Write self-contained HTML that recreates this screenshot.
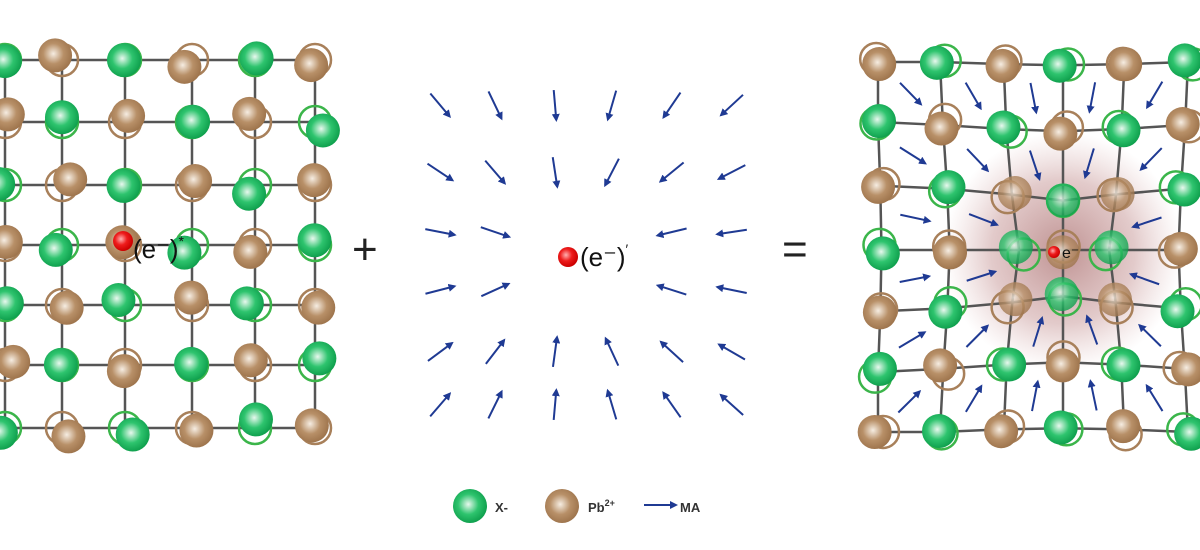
<!DOCTYPE html>
<html><head><meta charset="utf-8">
<style>
html,body{margin:0;padding:0;background:#fff;width:1200px;height:550px;overflow:hidden}
svg{display:block}
text{font-family:"Liberation Sans",sans-serif}
</style></head><body>
<svg id="s" width="1200" height="550" viewBox="0 0 1200 550" xmlns="http://www.w3.org/2000/svg">
<defs>
<radialGradient id="gG" cx="0.45" cy="0.45" r="0.6"><stop offset="0" stop-color="#e8f8ee"/><stop offset="0.5" stop-color="#2ec46e"/><stop offset="1" stop-color="#0a9a48"/></radialGradient>
<radialGradient id="gB" cx="0.45" cy="0.45" r="0.6"><stop offset="0" stop-color="#f6ede2"/><stop offset="0.5" stop-color="#b89068"/><stop offset="1" stop-color="#9a7048"/></radialGradient>
<radialGradient id="gR" cx="0.4" cy="0.4" r="0.6"><stop offset="0" stop-color="#ffb0b0"/><stop offset="0.5" stop-color="#ee1c1c"/><stop offset="1" stop-color="#c00"/></radialGradient>
<radialGradient id="glow" cx="0.5" cy="0.5" r="0.5"><stop offset="0" stop-color="#8a3a3a" stop-opacity="0.55"/><stop offset="0.6" stop-color="#a05050" stop-opacity="0.3"/><stop offset="1" stop-color="#c08080" stop-opacity="0"/></radialGradient>
<marker id="ah" markerWidth="8" markerHeight="8" refX="6" refY="4" orient="auto" markerUnits="userSpaceOnUse"><path d="M0,0 L8,4 L0,8 Z" fill="#1f3a93"/></marker>
</defs>
<g id="L"></g><g id="M"></g><g id="R"></g>
<text x="352" y="264" font-size="44" fill="#222">+</text>
<text x="782" y="264" font-size="44" fill="#222">=</text>
<circle cx="123" cy="241" r="10" fill="url(#gR)"/>
<text x="133" y="258" font-size="26" fill="#111">(e⁻)<tspan font-size="14" dy="-12">*</tspan></text>
<circle cx="568" cy="257" r="10" fill="url(#gR)"/>
<text x="580" y="266" font-size="26" fill="#111">(e⁻)<tspan font-size="14" dy="-12">′</tspan></text>
<circle cx="470" cy="506" r="17" fill="url(#gG)"/>
<text x="495" y="512" font-size="13" font-weight="bold" fill="#333">X-</text>
<circle cx="562" cy="506" r="17" fill="url(#gB)"/>
<text x="588" y="512" font-size="13" font-weight="bold" fill="#333">Pb<tspan font-size="9" dy="-6">2+</tspan></text>
<line x1="644" y1="505" x2="676" y2="505" stroke="#1f3a93" stroke-width="2" marker-end="url(#ah)"/>
<text x="680" y="512" font-size="13" font-weight="bold" fill="#333">MA</text>
</svg>
<script>
var NS="http://www.w3.org/2000/svg";
function el(p,t,a){var e=document.createElementNS(NS,t);for(var k in a)e.setAttribute(k,a[k]);p.appendChild(e);return e;}
var seed=7;function rnd(){seed=(seed*9301+49297)%233280;return seed/233280;}
// Left lattice
var L=document.getElementById('L');
var xs=[5,62,125,192,255,315], ys=[60,122,185,245,305,365,428];
for(var j=0;j<ys.length;j++)el(L,'line',{x1:0,y1:ys[j],x2:315,y2:ys[j],stroke:'#555','stroke-width':2.5});
for(var i=0;i<xs.length;i++)el(L,'line',{x1:xs[i],y1:60,x2:xs[i],y2:428,stroke:'#555','stroke-width':2.5});
for(var j=0;j<ys.length;j++)for(var i=0;i<xs.length;i++){
 var g=(i+j)%2==0;var c=g?'#3bb54a':'#a8805a';
 var dx=(rnd()-0.5)*18,dy=(rnd()-0.5)*18;
 el(L,'circle',{cx:xs[i],cy:ys[j],r:16,fill:'none',stroke:c,'stroke-width':2.5});
 el(L,'circle',{cx:xs[i]+dx,cy:ys[j]+dy,r:17,fill:g?'url(#gG)':'url(#gB)'});
}
// Middle arrows
var M=document.getElementById('M');
var mx=[440,495,555,612,672,732], my=[105,172,232,290,352,405], cx=568,cy=257;
for(var j=0;j<6;j++)for(var i=0;i<6;i++){
 if((j==2||j==3)&&(i==2||i==3))continue;
 var x=mx[i],y=my[j],vx=cx-x,vy=cy-y,d=Math.hypot(vx,vy);vx/=d;vy/=d;
 el(M,'line',{x1:x-vx*15,y1:y-vy*15,x2:x+vx*15,y2:y+vy*15,stroke:'#1f3a93','stroke-width':2,'marker-end':'url(#ah)'});
}
// Right lattice
var R=document.getElementById('R');
el(R,'circle',{cx:1063,cy:252,r:120,fill:'url(#glow)'});
var rx=[878,940,1003,1063,1125,1188], ry=[62,122,185,250,312,372,432], X0=1063,Y0=250;
function P(i,j){var x=rx[i],y=ry[j],dx=x-X0,dy=y-Y0,d=Math.hypot(dx,dy)||1;var f=d<1?0:Math.max(0,1-d/220)*22;return [x-dx/d*f,y-dy/d*f];}
for(var j=0;j<7;j++){var pts=[];for(var i=0;i<6;i++){var p=P(i,j);pts.push(p.join(','));}el(R,'polyline',{points:pts.join(' '),fill:'none',stroke:'#555','stroke-width':2.5});}
for(var i=0;i<6;i++){var pts=[];for(var j=0;j<7;j++){var p=P(i,j);pts.push(p.join(','));}el(R,'polyline',{points:pts.join(' '),fill:'none',stroke:'#555','stroke-width':2.5});}
// arrows between
for(var j=0;j<6;j++)for(var i=0;i<5;i++){
 var a=P(i,j),b=P(i+1,j+1);var x=(a[0]+b[0])/2,y=(a[1]+b[1])/2;
 var vx=X0-x,vy=Y0-y,d=Math.hypot(vx,vy);if(d<50)continue;vx/=d;vy/=d;
 el(R,'line',{x1:x-vx*15,y1:y-vy*15,x2:x+vx*15,y2:y+vy*15,stroke:'#1f3a93','stroke-width':2,'marker-end':'url(#ah)'});
}
seed=3;
for(var j=0;j<7;j++)for(var i=0;i<6;i++){
 var g=(i+j)%2==1;var c=g?'#3bb54a':'#a8805a';var p=P(i,j);
 var dx=(rnd()-0.5)*18,dy=(rnd()-0.5)*18;
 var near=Math.hypot(p[0]-X0,p[1]-Y0)<90;
 el(R,'circle',{cx:p[0]+dx*0.6,cy:p[1]+dy*0.6,r:16,fill:'none',stroke:c,'stroke-width':2.5});
 el(R,'circle',{cx:p[0]-dx*0.4,cy:p[1]-dy*0.4,r:17,fill:g?'url(#gG)':'url(#gB)',opacity:near?0.8:1});
}
el(R,'circle',{cx:1054,cy:252,r:6,fill:'url(#gR)'});
var t=el(R,'text',{x:1062,y:258,'font-size':16,fill:'#111'});t.textContent='e⁻';
</script>
</body></html>
